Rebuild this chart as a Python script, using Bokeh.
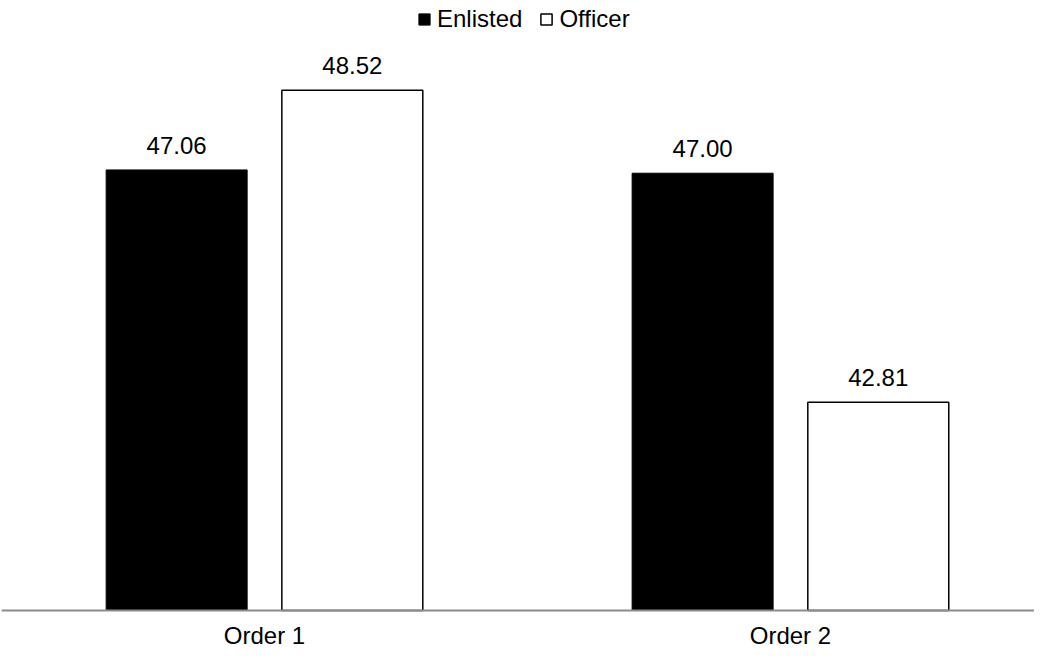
from bokeh.plotting import figure
from bokeh.models import ColumnDataSource, Range1d, Legend, LegendItem, LabelSet, Span
from bokeh.core.properties import value
from bokeh.embed import file_html
from bokeh.resources import INLINE

categories = ["Order 1", "Order 2"]
series = ["Enlisted", "Officer"]
enlisted = [47.06, 47.00]
officer = [48.52, 42.81]
y_base = 39

FONT = "Liberation Sans"
offset = 0.167
bar_w = 0.268

# frame: page y 8..657, baseline (y_base) at page y 618, value 50.16 at page y 8
px_per_unit = 610 / (50.16 - y_base)
y_start = y_base - 39 / px_per_unit

xs = list(range(len(categories)))
src_e = ColumnDataSource(dict(x=[v - offset for v in xs], top=enlisted,
                              lbl=[f"{v:.2f}" for v in enlisted]))
src_o = ColumnDataSource(dict(x=[v + offset for v in xs], top=officer,
                              lbl=[f"{v:.2f}" for v in officer]))
src_c = ColumnDataSource(dict(x=xs, y=[y_base] * len(xs), lbl=categories))

p = figure(width=1034, height=649, output_backend="svg", toolbar_location=None,
           x_range=Range1d(-0.5, 1.464), y_range=Range1d(y_start, 50.16),
           x_axis_location=None, y_axis_location=None,
           min_border_left=1, min_border_right=0, min_border_top=0, min_border_bottom=0)
p.outline_line_color = None
p.grid.visible = False
p.background_fill_color = "white"

r_e = p.vbar(x="x", top="top", bottom=y_base, width=bar_w, source=src_e,
             fill_color="black", line_color="black", line_width=1)
r_o = p.vbar(x="x", top="top", bottom=y_base, width=bar_w, source=src_o,
             fill_color="white", line_color="black", line_width=1.5)

# category axis baseline
p.add_layout(Span(location=y_base, dimension="width", line_color="#8c8c8c", line_width=2))

for s in (src_e, src_o):
    p.add_layout(LabelSet(x="x", y="top", text="lbl", source=s, text_align="center",
                          text_baseline="alphabetic", y_offset=16, text_font=value(FONT),
                          text_font_size="24px", text_color="black"))

# category labels under the baseline
p.add_layout(LabelSet(x="x", y="y", text="lbl", source=src_c, text_align="center",
                      text_baseline="alphabetic", y_offset=-33, text_font=value(FONT),
                      text_font_size="24px", text_color="black"))

legend = Legend(items=[LegendItem(label=series[0], renderers=[r_e]),
                       LegendItem(label=series[1], renderers=[r_o])],
                orientation="horizontal", location=(416, 616),
                glyph_width=14, glyph_height=14, label_standoff=6, spacing=17,
                padding=0, margin=0, border_line_color=None, background_fill_alpha=0,
                label_text_font=FONT, label_text_font_size="24px",
                label_text_color="black", label_height=24)
p.add_layout(legend, "center")

open("out.html", "w").write(file_html(p, INLINE))
